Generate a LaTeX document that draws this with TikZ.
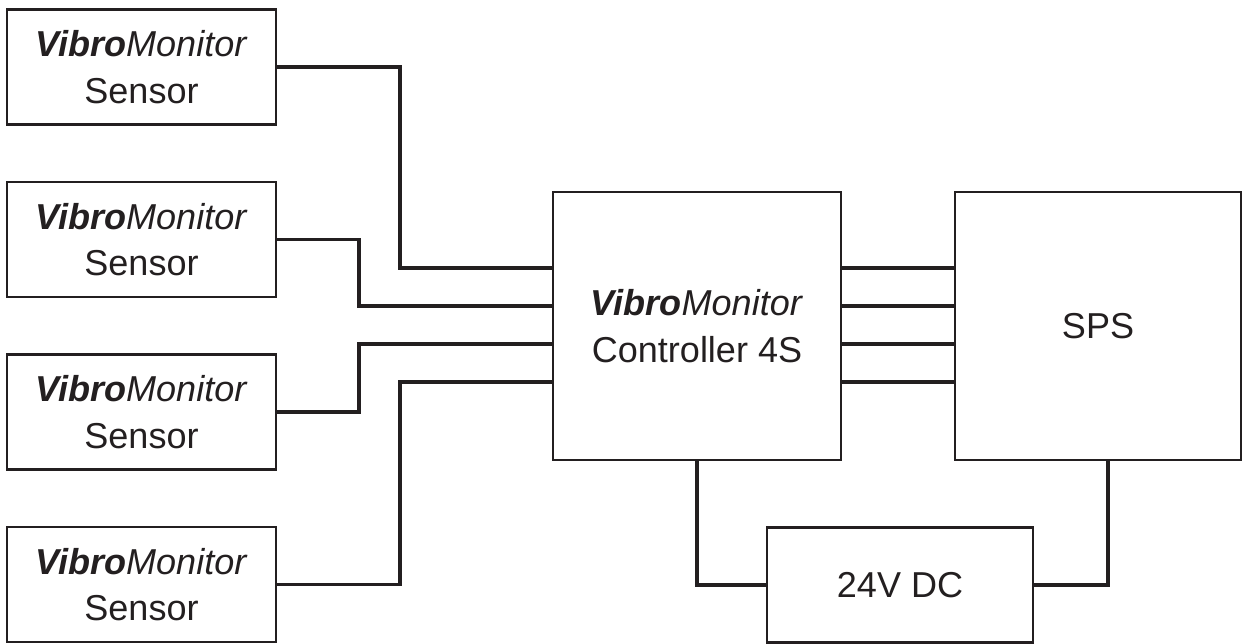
\documentclass[tikz,border=0pt]{standalone}
\usepackage{fontspec}
\setmainfont{Liberation Sans}
\usepackage{tikz}
\usetikzlibrary{calc}

\definecolor{ink}{HTML}{231F20}
\newcommand{\vibro}{\textbf{\textit{Vibro}}\textit{Monitor}}

\begin{document}
\begin{tikzpicture}[node distance=3.45cm, auto,
    box/.style={draw=ink, line width=1.4pt, align=center, text=ink,
      font=\fontsize{20.5}{26.5}\selectfont, inner sep=0pt},
    sensorbox/.style={box, minimum width=5.38cm, minimum height=2.3cm},
    wire/.style={draw=ink, line width=2.2pt}]
  \useasboundingbox (0,0) rectangle (24.86,-12.88);
  \node[sensorbox] (S1) at (2.83,-1.34) {\vibro\\Sensor};
  \node[sensorbox] (S2) [below of=S1] {\vibro\\Sensor};
  \node[sensorbox] (S3) [below of=S2] {\vibro\\Sensor};
  \node[sensorbox] (S4) [below of=S3] {\vibro\\Sensor};
  \node[box, minimum width=5.76cm, minimum height=5.36cm] (Ctrl) at (13.94,-6.52) {\vibro\\Controller 4S};
  \node[box, minimum width=5.72cm, minimum height=5.36cm] (SPS) [right of=Ctrl, node distance=8.02cm] {SPS};
  \node[box, minimum width=5.32cm, minimum height=2.3cm] (DC) at (18.0,-11.7) {24V DC};
  % signal lines
  \foreach \i/\dy in {1/1.16,2/0.4,3/-0.36,4/-1.12} {
    \coordinate (C\i) at ($(Ctrl.west)+(0,\dy)$);
    \draw[wire] (C\i -| Ctrl.east) -- (C\i -| SPS.west);
  }
  \draw[wire] (S1.east) -- ++(2.46,0) |- (C1);
  \draw[wire] (S2.east) -- ++(1.64,0) |- (C2);
  \draw[wire] (S3.east) -- ++(1.64,0) |- (C3);
  \draw[wire] (S4.east) -- ++(2.46,0) |- (C4);
  % supply
  \coordinate (P) at ($(SPS.south)+(0.2,0)$);
  \draw[wire] (Ctrl.south) |- (DC.west);
  \draw[wire] (DC.east) -| (P);
\end{tikzpicture}
\end{document}
